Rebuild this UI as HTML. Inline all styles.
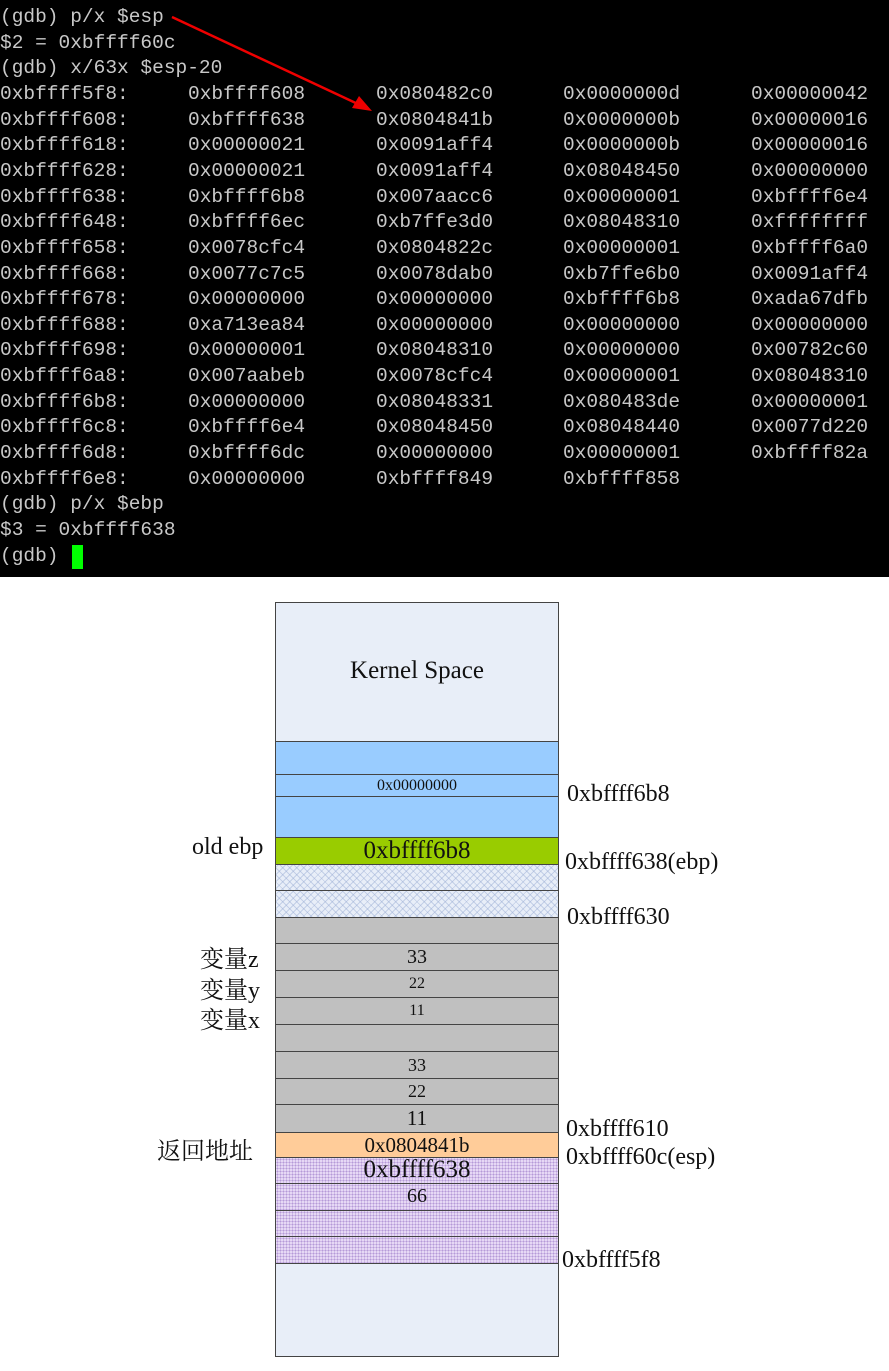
<!DOCTYPE html>
<html><head><meta charset="utf-8"><style>
body{margin:0;width:889px;height:1371px;background:#fff;position:relative;overflow:hidden}
#term{position:absolute;left:0;top:0;width:889px;height:577px;background:#000}
.t{position:absolute;color:#c8c8c8;font:19.5px "Liberation Mono",monospace;white-space:pre;line-height:20px}
.c{position:absolute;left:275px;width:284px;box-sizing:border-box;border:1px solid #444;font-family:"Liberation Serif",serif;text-align:center;color:#111}
.l{position:absolute;font:24px "Liberation Serif","Noto Serif CJK SC",serif;color:#111;white-space:nowrap}
.hatch{background-color:#e8eef8;background-image:repeating-linear-gradient(45deg,rgba(150,170,210,.45) 0 1px,transparent 1px 5px),repeating-linear-gradient(-45deg,rgba(150,170,210,.45) 0 1px,transparent 1px 5px)}
.dots{background-color:#e6d8f5;background-image:radial-gradient(#b59ad8 0.8px,transparent 1px);background-size:3px 3px}
</style></head><body>
<div id="term"></div>
<div id="rows"></div>
<script>
var L=[["(gdb) p/x $esp"],["$2 = 0xbffff60c"],["(gdb) x/63x $esp-20"],
["0xbffff5f8:","0xbffff608","0x080482c0","0x0000000d","0x00000042"],
["0xbffff608:","0xbffff638","0x0804841b","0x0000000b","0x00000016"],
["0xbffff618:","0x00000021","0x0091aff4","0x0000000b","0x00000016"],
["0xbffff628:","0x00000021","0x0091aff4","0x08048450","0x00000000"],
["0xbffff638:","0xbffff6b8","0x007aacc6","0x00000001","0xbffff6e4"],
["0xbffff648:","0xbffff6ec","0xb7ffe3d0","0x08048310","0xffffffff"],
["0xbffff658:","0x0078cfc4","0x0804822c","0x00000001","0xbffff6a0"],
["0xbffff668:","0x0077c7c5","0x0078dab0","0xb7ffe6b0","0x0091aff4"],
["0xbffff678:","0x00000000","0x00000000","0xbffff6b8","0xada67dfb"],
["0xbffff688:","0xa713ea84","0x00000000","0x00000000","0x00000000"],
["0xbffff698:","0x00000001","0x08048310","0x00000000","0x00782c60"],
["0xbffff6a8:","0x007aabeb","0x0078cfc4","0x00000001","0x08048310"],
["0xbffff6b8:","0x00000000","0x08048331","0x080483de","0x00000001"],
["0xbffff6c8:","0xbffff6e4","0x08048450","0x08048440","0x0077d220"],
["0xbffff6d8:","0xbffff6dc","0x00000000","0x00000001","0xbffff82a"],
["0xbffff6e8:","0x00000000","0xbffff849","0xbffff858"],
["(gdb) p/x $ebp"],["$3 = 0xbffff638"],["(gdb) "]];
var X=[0,188,376,563,751],h="";
L.forEach(function(r,i){var y=7+i*25.65;r.forEach(function(s,j){h+='<div class="t" style="left:'+X[j]+'px;top:'+y+'px">'+s+'</div>';});});
h+='<div style="position:absolute;left:72px;top:545px;width:11px;height:24px;background:#00ff00"></div>';
document.getElementById('rows').innerHTML=h;
</script>
<svg style="position:absolute;left:0;top:0" width="889" height="577"><line x1="172" y1="17" x2="360" y2="105" stroke="#e00" stroke-width="2.5"/><polygon points="372,111 352,108 359,96" fill="#e00"/></svg>

<div class="c" style="top:602px;height:140px;background:#e8eef8;font-size:25px;line-height:136px">Kernel Space</div>
<div class="c" style="top:741px;height:97px;background:#99ccff"></div>
<div class="c" style="top:774px;height:23px;background:#99ccff;font-size:16px;line-height:21px">0x00000000</div>
<div class="c" style="top:837px;height:28px;background:#99cc00;font-size:25px;line-height:26px">0xbffff6b8</div>
<div class="c hatch" style="top:864px;height:27px"></div>
<div class="c hatch" style="top:890px;height:28px"></div>
<div class="c" style="top:917px;height:27px;background:#c0c0c0"></div>
<div class="c" style="top:943px;height:28px;background:#c0c0c0;font-size:20px;line-height:26px">33</div>
<div class="c" style="top:970px;height:28px;background:#c0c0c0;font-size:16px;line-height:26px">22</div>
<div class="c" style="top:997px;height:28px;background:#c0c0c0;font-size:16px;line-height:26px">11</div>
<div class="c" style="top:1024px;height:28px;background:#c0c0c0"></div>
<div class="c" style="top:1051px;height:28px;background:#c0c0c0;font-size:18px;line-height:26px">33</div>
<div class="c" style="top:1078px;height:27px;background:#c0c0c0;font-size:18px;line-height:25px">22</div>
<div class="c" style="top:1104px;height:29px;background:#c0c0c0;font-size:21px;line-height:27px">11</div>
<div class="c" style="top:1132px;height:26px;background:#ffcc99;font-size:21px;line-height:24px">0x0804841b</div>
<div class="c dots" style="top:1157px;height:27px;font-size:25px;line-height:23px">0xbffff638</div>
<div class="c dots" style="top:1183px;height:28px;font-size:20px;line-height:24px">66</div>
<div class="c dots" style="top:1210px;height:27px"></div>
<div class="c dots" style="top:1236px;height:28px"></div>
<div class="c" style="top:1263px;height:94px;background:#e8eef8"></div>

<div class="l" style="left:567px;top:781px">0xbffff6b8</div>
<div class="l" style="left:192px;top:834px">old ebp</div>
<div class="l" style="left:565px;top:849px">0xbffff638(ebp)</div>
<div class="l" style="left:567px;top:904px">0xbffff630</div>
<div class="l" style="left:200px;top:939px">变量z</div>
<div class="l" style="left:200px;top:970px">变量y</div>
<div class="l" style="left:200px;top:1000px">变量x</div>
<div class="l" style="left:566px;top:1116px">0xbffff610</div>
<div class="l" style="left:157px;top:1131px">返回地址</div>
<div class="l" style="left:566px;top:1144px">0xbffff60c(esp)</div>
<div class="l" style="left:562px;top:1247px">0xbffff5f8</div>
</body></html>
